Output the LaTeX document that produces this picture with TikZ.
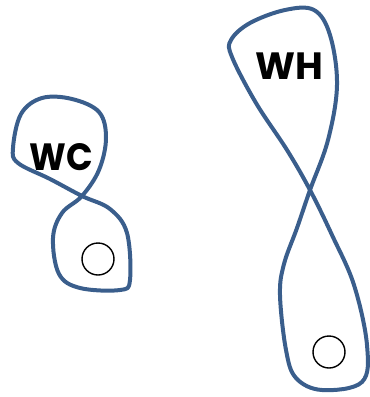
\documentclass[tikz,border=0pt]{standalone}
\usepackage{fontspec}
\setmainfont{Poppins}
\definecolor{loopblue}{RGB}{58,94,140}
\begin{document}
\begin{tikzpicture}[x=1pt,y=-1pt,
  loop/.style={draw=loopblue,line width=4pt,line join=round},
  hole/.style={draw=black,line width=1.4pt,circle,minimum size=32pt,inner sep=0pt},
  lbl/.style={font=\fontsize{38}{38}\selectfont\bfseries,inner sep=0pt}]
\useasboundingbox (0,0) rectangle (370,397);
% WC figure eight
\draw[loop] plot[smooth cycle,tension=0.6] coordinates {
  (82,196) (99,170) (106,138) (99,112) (72,99) (42,98) (21,114) (13,148) (18,163) (50,179)
  (82,196) (110,209) (127,233) (130,280) (120,290) (80,288) (59,274) (53,238) (62,213)};
% WH figure eight
\draw[loop] plot[smooth cycle,tension=0.6] coordinates {
  (310,190) (328,140) (337,85) (330,35) (314,10) (285,10) (250,23) (231,40) (232,57)
  (256,103) (287,150) (310,190) (332,235) (354,285) (367,345) (362,382) (322,390) (296,378)
  (286,350) (280,295) (284,264) (297,228)};
\node[hole] (c1) at (98,259) {};
\node[hole] (c2) at (329,352) {};
\node[lbl,xscale=0.92] (wc) at (61.5,157) {WC};
\node[lbl] (wh) at (289.5,66) {WH};
\end{tikzpicture}
\end{document}
